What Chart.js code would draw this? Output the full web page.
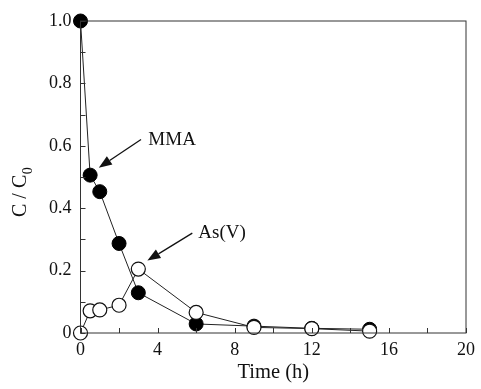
<!DOCTYPE html>
<html>
<head>
<meta charset="utf-8">
<script src="https://cdn.jsdelivr.net/npm/chart.js@4/dist/chart.umd.min.js"></script>
<style>
  html, body { margin: 0; padding: 0; background: #fff; }
  #wrap { width: 481px; height: 389px; position: relative; }
</style>
</head>
<body>
<div id="wrap"><canvas id="chart"></canvas></div>
<script>
// time points (h)
const times = [0, 0.5, 1, 2, 3, 6, 9, 12, 15];
// C / C0 for each species
const mmaValues = [1.0, 0.506, 0.453, 0.287, 0.129, 0.029, 0.022, 0.015, 0.012];
const asValues  = [0.0, 0.071, 0.074, 0.089, 0.205, 0.066, 0.018, 0.014, 0.006];

const xTicks = [0, 4, 8, 12, 16, 20];
const yTicks = [0, 0.2, 0.4, 0.6, 0.8, 1.0];

const serif = "'Liberation Serif', 'Times New Roman', serif";

// labels with arrows, in data units
const notes = [
  { text: 'MMA',   tx: 3.52, ty: 0.62, from: [3.14, 0.62], to: [0.95, 0.53] },
  { text: 'As(V)', tx: 6.11, ty: 0.32, from: [5.8, 0.32],  to: [3.47, 0.232] }
];

const toPts = (ys) => times.map((t, i) => ({ x: t, y: ys[i] }));

// frame, inward ticks, arrows and y title
const decor = {
  id: 'decor',
  afterDraw(chart) {
    const { ctx, chartArea: a, scales: { x, y } } = chart;
    ctx.save();
    ctx.strokeStyle = '#333';
    ctx.lineWidth = 1;
    ctx.strokeRect(a.left, a.top, a.right - a.left, a.bottom - a.top);
    ctx.beginPath();
    for (let v = 0; v <= 20; v += 2) {
      const px = Math.round(x.getPixelForValue(v)) + 0.5;
      ctx.moveTo(px, a.bottom);
      ctx.lineTo(px, a.bottom - 5);
    }
    for (let k = 0; k <= 10; k++) {
      const py = Math.round(y.getPixelForValue(k / 10)) + 0.5;
      ctx.moveTo(a.left, py);
      ctx.lineTo(a.left + 5, py);
    }
    ctx.stroke();

    ctx.fillStyle = '#111';
    ctx.strokeStyle = '#111';
    ctx.font = '19px ' + serif;
    ctx.textBaseline = 'middle';
    ctx.textAlign = 'left';
    notes.forEach(n => {
      ctx.fillText(n.text, x.getPixelForValue(n.tx), y.getPixelForValue(n.ty));
      const x1 = x.getPixelForValue(n.from[0]), y1 = y.getPixelForValue(n.from[1]);
      const x2 = x.getPixelForValue(n.to[0]),   y2 = y.getPixelForValue(n.to[1]);
      const ang = Math.atan2(y2 - y1, x2 - x1);
      const hl = 13, hw = 5;
      const bx = x2 - hl * Math.cos(ang), by = y2 - hl * Math.sin(ang);
      ctx.beginPath();
      ctx.lineWidth = 1.3;
      ctx.moveTo(x1, y1);
      ctx.lineTo(bx, by);
      ctx.stroke();
      ctx.beginPath();
      ctx.moveTo(x2, y2);
      ctx.lineTo(bx + hw * Math.sin(ang), by - hw * Math.cos(ang));
      ctx.lineTo(bx - hw * Math.sin(ang), by + hw * Math.cos(ang));
      ctx.closePath();
      ctx.fill();
    });

    // y title: C / C0 with subscript
    ctx.translate(26, 217);
    ctx.rotate(-Math.PI / 2);
    ctx.textBaseline = 'alphabetic';
    ctx.font = '20px ' + serif;
    const main = 'C / C';
    ctx.fillText(main, 0, 0);
    const w = ctx.measureText(main).width;
    ctx.font = '14px ' + serif;
    ctx.fillText('0', w + 0.5, 6);
    ctx.restore();
  }
};

new Chart(document.getElementById('chart'), {
  type: 'line',
  plugins: [decor],
  data: {
    datasets: [
      {
        label: 'MMA',
        data: toPts(mmaValues),
        borderColor: '#222',
        borderWidth: 1,
        backgroundColor: '#000',
        pointBackgroundColor: '#000',
        pointBorderColor: '#000',
        pointRadius: 7,
        order: 1
      },
      {
        label: 'As(V)',
        data: toPts(asValues),
        borderColor: '#222',
        borderWidth: 1,
        pointBackgroundColor: '#fff',
        pointBorderColor: '#111',
        pointBorderWidth: 1.2,
        pointRadius: 7,
        order: 0
      }
    ]
  },
  options: {
    responsive: true,
    maintainAspectRatio: false,
    animation: false,
    layout: { padding: { top: 21, right: 13, left: 0, bottom: 0 } },
    plugins: { legend: { display: false }, tooltip: { enabled: false } },
    scales: {
      x: {
        type: 'linear',
        min: 0, max: 20,
        afterBuildTicks: s => { s.ticks = xTicks.map(v => ({ value: v })); },
        afterFit: s => { s.height = 56; },
        grid: { display: false, drawTicks: false },
        border: { display: false },
        ticks: { color: '#111', padding: 6, maxRotation: 0, font: { family: serif, size: 18 } },
        title: { display: true, text: 'Time (h)', color: '#111', padding: { top: 6 }, font: { family: serif, size: 20.5 } }
      },
      y: {
        min: 0, max: 1,
        afterBuildTicks: s => { s.ticks = yTicks.map(v => ({ value: v })); },
        afterFit: s => { s.width = 80.5; },
        grid: { display: false, drawTicks: false },
        border: { display: false },
        ticks: {
          color: '#111', padding: 9, font: { family: serif, size: 18 },
          callback: v => v === 0 ? '0' : v.toFixed(1)
        }
      }
    },
    clip: false
  }
});
</script>
</body>
</html>
